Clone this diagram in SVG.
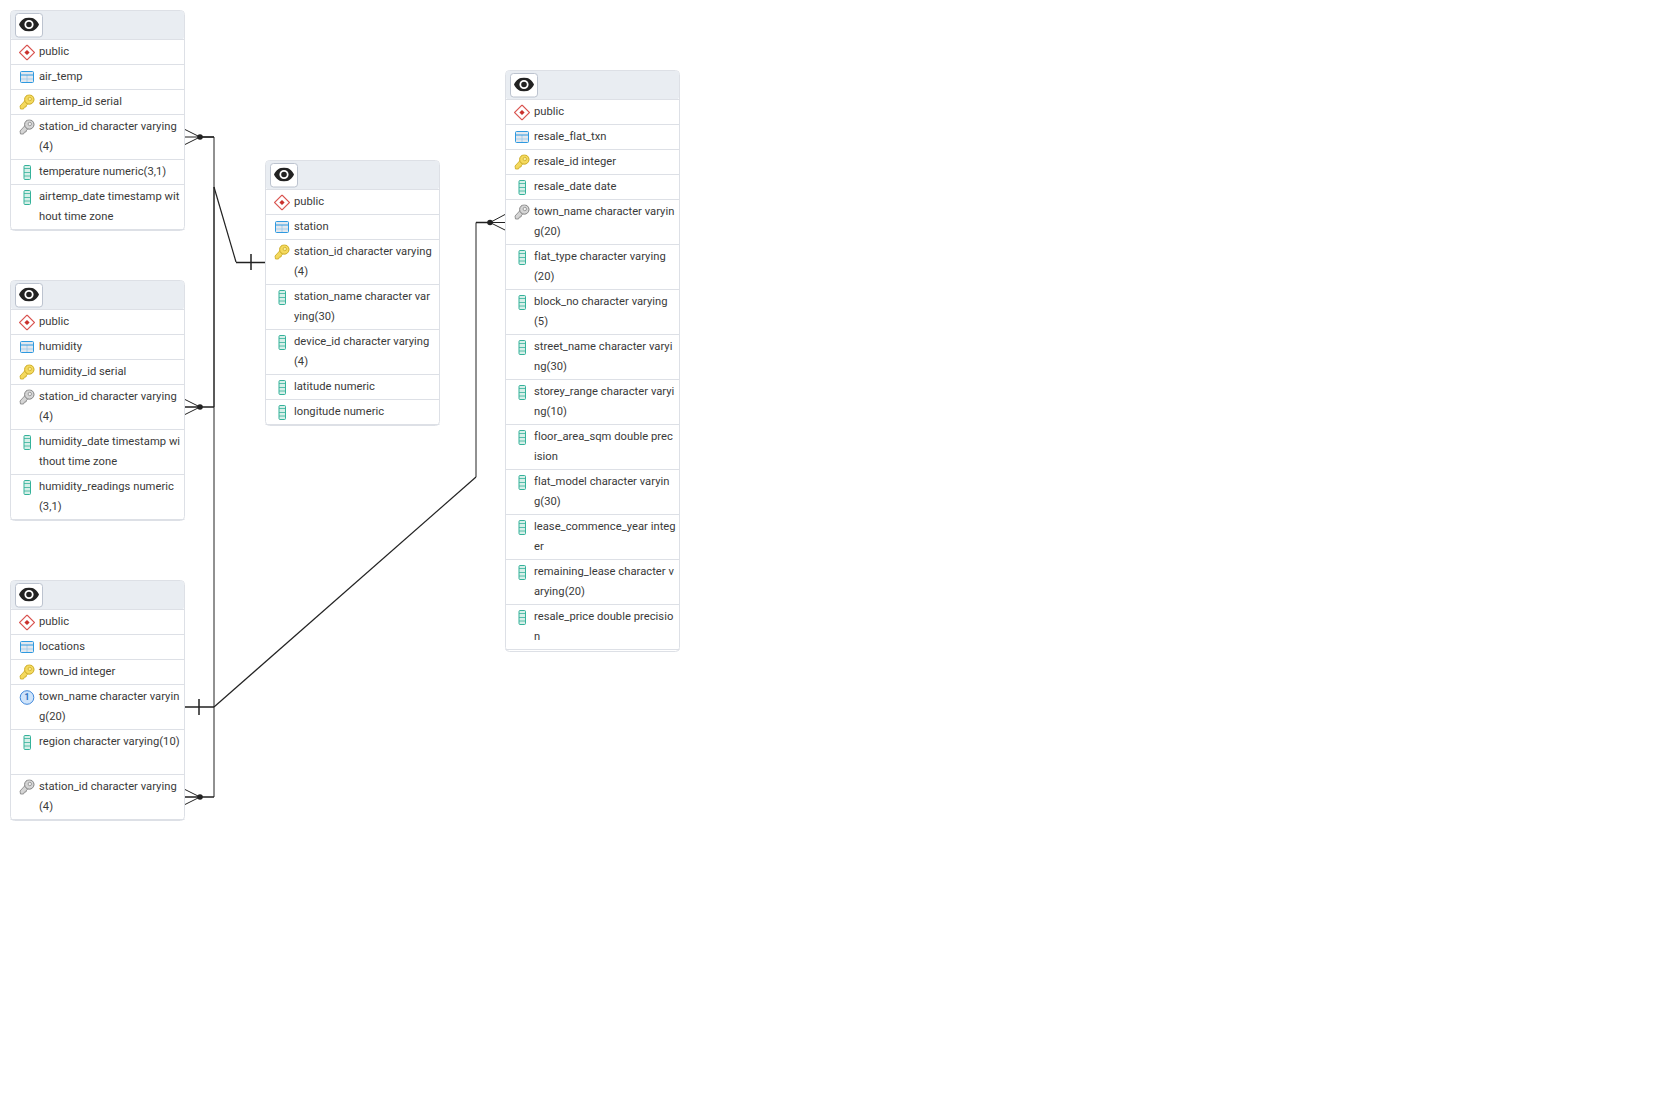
<svg xmlns="http://www.w3.org/2000/svg" width="1659" height="1107" viewBox="0 0 1659 1107">
<style>
text{font-family:Roboto,"Liberation Sans",sans-serif;font-size:11.2px;fill:#3a3a3a;letter-spacing:.03px;transform:translateY(-.3px)}
.box{fill:#fff;stroke:#dde0e6;stroke-width:1}
.hd{fill:#e9edf2}
.ln{stroke:#dde0e6;stroke-width:1}
.btn{fill:#fff;stroke:#bcc3cf;stroke-width:1}
.c{fill:none;stroke:#222;stroke-width:1}
.d{fill:none;stroke:#222;stroke-width:1.2}
.h{fill:none;stroke:#222;stroke-width:1.5}
.dot{fill:#222}
</style>
<defs>
<symbol id="eye" viewBox="0 0 20 14" width="20" height="14"><path fill="#222" d="M10 0C5.500 0 1.700 2.800 0 7c1.700 4.200 5.500 7 10 7s8.300-2.800 10-7c-1.700-4.200-5.500-7-10-7zm0 11.600A4.600 4.600 0 1 1 10 2.400a4.600 4.600 0 0 1 0 9.200zM10 4.200a2.800 2.800 0 1 0 0 5.600a2.800 2.800 0 0 0 0-5.600z"/></symbol>
<symbol id="sch" viewBox="0 0 16 16" width="16" height="16"><path d="M8 .5 15.500 8 8 15.500 .5 8z" fill="#fff" stroke="#d9534f" stroke-width="1.100"/><path d="M8 5.400 10.600 8 8 10.600 5.400 8z" fill="#c9302c"/></symbol>
<symbol id="tbl" viewBox="0 0 16 16" width="16" height="16"><rect x="1.500" y="2" width="13" height="11" rx="1" fill="#e3e8ee" stroke="#2f9ae0" stroke-width="1"/><path d="M1.500 9.500h13M8 5.500v7.500" stroke="#2f9ae0" stroke-width=".8" opacity=".4"/><path d="M1.500 5.500h13" stroke="#2f9ae0" stroke-width="1"/></symbol>
<symbol id="pk" viewBox="0 0 16 16" width="16" height="16"><path d="M6.500 5.500 1 11.500 1.500 14.500 4.500 14.500 5.500 12.500 7 12.500 7.500 10.500 10 8.500z" fill="#f4d95e" stroke="#c9a820" stroke-width=".8"/><circle cx="10.300" cy="5" r="4.700" fill="#f4d95e" stroke="#c9a820" stroke-width="1"/><circle cx="10.800" cy="4.500" r="1.700" fill="#f9ec9c" stroke="#c9a820" stroke-width=".7"/></symbol>
<symbol id="fk" viewBox="0 0 16 16" width="16" height="16"><path d="M6.500 5.500 1 11.500 1.500 14.500 4.500 14.500 5.500 12.500 7 12.500 7.500 10.500 10 8.500z" fill="#d5d5d5" stroke="#808080" stroke-width=".8"/><circle cx="10.300" cy="5" r="4.700" fill="#d5d5d5" stroke="#808080" stroke-width="1"/><circle cx="10.800" cy="4.500" r="1.700" fill="#f4f4f4" stroke="#808080" stroke-width=".7"/></symbol>
<symbol id="col" viewBox="0 0 16 16" width="16" height="16"><rect x="5" y="1" width="6.500" height="14" rx="1" fill="#d6efe8" stroke="#35b29a" stroke-width="1"/><path d="M5 4h6.500M5 8h6.500M5 11.500h6.500" stroke="#35b29a" stroke-width=".8"/></symbol>
<symbol id="uq" viewBox="0 0 16 16" width="16" height="16"><circle cx="8" cy="8" r="6.800" fill="#cfe4fb" stroke="#3f86d9" stroke-width="1"/><text x="8" y="11.300" text-anchor="middle" style="font-size:8.500px;font-weight:700;fill:#2a6fc0;letter-spacing:0">1</text></symbol>
<g id="head"><rect class="hd" x="0.500" y="0.500" width="173" height="28.500" rx="3"/><rect class="btn" x="5" y="3" width="27" height="23.500" rx="3"/><use href="#eye" x="8.500" y="7"/></g>
</defs>

<g id="connectors">
<path class="c" d="M185 137H214V187"/>
<path class="c" d="M214 407V187"/>
<path class="c" d="M214 797V187"/>
<path class="d" d="M214 187L236 262"/>
<path class="d" d="M214 707 476 477"/>
<path class="c" d="M476 477V222.500"/>
<path class="h" d="M200 137H214M185 407H214M185 797H214M185 707H214M236 262.500H265M490 222.500H476"/>
<path class="h" d="M251 254V270M199 699V715"/>
<path class="c" d="M185 129.500 200 137 185 144.500M185 399.500 200 407 185 414.500M185 789.500 200 797 185 804.500M505 214.500 490 222.500 505 230M490 222.500H505"/>
<circle class="dot" cx="200" cy="137" r="2.800"/><circle class="dot" cx="200" cy="407" r="2.800"/><circle class="dot" cx="200" cy="797" r="2.800"/><circle class="dot" cx="490" cy="222.500" r="2.800"/>
</g>

<g id="node-air_temp" transform="translate(10.500 10.500)">
<rect class="box" width="174" height="220" rx="4"/><use href="#head"/>
<path class="ln" d="M0 29H174M0 54H174M0 79H174M0 104H174M0 149H174M0 174H174M0 219H174"/>
<use href="#sch" x="8.500" y="34"/><text x="28.500" y="44.500">public</text>
<use href="#tbl" x="8.500" y="59"/><text x="28.500" y="69.500">air_temp</text>
<use href="#pk" x="8.500" y="84"/><text x="28.500" y="94.500">airtemp_id serial</text>
<use href="#fk" x="8.500" y="109"/><text x="28.500" y="119.500">station_id character varying</text><text x="28.500" y="139.500">(4)</text>
<use href="#col" x="8.500" y="154"/><text x="28.500" y="164.500">temperature numeric(3,1)</text>
<use href="#col" x="8.500" y="179"/><text x="28.500" y="189.500">airtemp_date timestamp wit</text><text x="28.500" y="209.500">hout time zone</text>
</g>

<g id="node-humidity" transform="translate(10.500 280.500)">
<rect class="box" width="174" height="240" rx="4"/><use href="#head"/>
<path class="ln" d="M0 29H174M0 54H174M0 79H174M0 104H174M0 149H174M0 194H174M0 239H174"/>
<use href="#sch" x="8.500" y="34"/><text x="28.500" y="44.500">public</text>
<use href="#tbl" x="8.500" y="59"/><text x="28.500" y="69.500">humidity</text>
<use href="#pk" x="8.500" y="84"/><text x="28.500" y="94.500">humidity_id serial</text>
<use href="#fk" x="8.500" y="109"/><text x="28.500" y="119.500">station_id character varying</text><text x="28.500" y="139.500">(4)</text>
<use href="#col" x="8.500" y="154"/><text x="28.500" y="164.500">humidity_date timestamp wi</text><text x="28.500" y="184.500">thout time zone</text>
<use href="#col" x="8.500" y="199"/><text x="28.500" y="209.500">humidity_readings numeric</text><text x="28.500" y="229.500">(3,1)</text>
</g>

<g id="node-locations" transform="translate(10.500 580.500)">
<rect class="box" width="174" height="240" rx="4"/><use href="#head"/>
<path class="ln" d="M0 29H174M0 54H174M0 79H174M0 104H174M0 149H174M0 194H174M0 239H174"/>
<use href="#sch" x="8.500" y="34"/><text x="28.500" y="44.500">public</text>
<use href="#tbl" x="8.500" y="59"/><text x="28.500" y="69.500">locations</text>
<use href="#pk" x="8.500" y="84"/><text x="28.500" y="94.500">town_id integer</text>
<use href="#uq" x="8.500" y="109"/><text x="28.500" y="119.500">town_name character varyin</text><text x="28.500" y="139.500">g(20)</text>
<use href="#col" x="8.500" y="154"/><text x="28.500" y="164.500">region character varying(10)</text>
<use href="#fk" x="8.500" y="199"/><text x="28.500" y="209.500">station_id character varying</text><text x="28.500" y="229.500">(4)</text>
</g>

<g id="node-station" transform="translate(265.500 160.500)">
<rect class="box" width="174" height="265" rx="4"/><use href="#head"/>
<path class="ln" d="M0 29H174M0 54H174M0 79H174M0 124H174M0 169H174M0 214H174M0 239H174M0 264H174"/>
<use href="#sch" x="8.500" y="34"/><text x="28.500" y="44.500">public</text>
<use href="#tbl" x="8.500" y="59"/><text x="28.500" y="69.500">station</text>
<use href="#pk" x="8.500" y="84"/><text x="28.500" y="94.500">station_id character varying</text><text x="28.500" y="114.500">(4)</text>
<use href="#col" x="8.500" y="129"/><text x="28.500" y="139.500">station_name character var</text><text x="28.500" y="159.500">ying(30)</text>
<use href="#col" x="8.500" y="174"/><text x="28.500" y="184.500">device_id character varying</text><text x="28.500" y="204.500">(4)</text>
<use href="#col" x="8.500" y="219"/><text x="28.500" y="229.500">latitude numeric</text>
<use href="#col" x="8.500" y="244"/><text x="28.500" y="254.500">longitude numeric</text>
</g>

<g id="node-resale_flat_txn" transform="translate(505.500 70.500)">
<rect class="box" width="174" height="581" rx="4"/><use href="#head"/>
<path class="ln" d="M0 29H174M0 54H174M0 79H174M0 104H174M0 129H174M0 174H174M0 219H174M0 264H174M0 309H174M0 354H174M0 399H174M0 444H174M0 489H174M0 534H174M0 579H174"/>
<use href="#sch" x="8.500" y="34"/><text x="28.500" y="44.500">public</text>
<use href="#tbl" x="8.500" y="59"/><text x="28.500" y="69.500">resale_flat_txn</text>
<use href="#pk" x="8.500" y="84"/><text x="28.500" y="94.500">resale_id integer</text>
<use href="#col" x="8.500" y="109"/><text x="28.500" y="119.500">resale_date date</text>
<use href="#fk" x="8.500" y="134"/><text x="28.500" y="144.500">town_name character varyin</text><text x="28.500" y="164.500">g(20)</text>
<use href="#col" x="8.500" y="179"/><text x="28.500" y="189.500">flat_type character varying</text><text x="28.500" y="209.500">(20)</text>
<use href="#col" x="8.500" y="224"/><text x="28.500" y="234.500">block_no character varying</text><text x="28.500" y="254.500">(5)</text>
<use href="#col" x="8.500" y="269"/><text x="28.500" y="279.500">street_name character varyi</text><text x="28.500" y="299.500">ng(30)</text>
<use href="#col" x="8.500" y="314"/><text x="28.500" y="324.500">storey_range character varyi</text><text x="28.500" y="344.500">ng(10)</text>
<use href="#col" x="8.500" y="359"/><text x="28.500" y="369.500">floor_area_sqm double prec</text><text x="28.500" y="389.500">ision</text>
<use href="#col" x="8.500" y="404"/><text x="28.500" y="414.500">flat_model character varyin</text><text x="28.500" y="434.500">g(30)</text>
<use href="#col" x="8.500" y="449"/><text x="28.500" y="459.500">lease_commence_year integ</text><text x="28.500" y="479.500">er</text>
<use href="#col" x="8.500" y="494"/><text x="28.500" y="504.500">remaining_lease character v</text><text x="28.500" y="524.500">arying(20)</text>
<use href="#col" x="8.500" y="539"/><text x="28.500" y="549.500">resale_price double precisio</text><text x="28.500" y="569.500">n</text>
</g>
</svg>
